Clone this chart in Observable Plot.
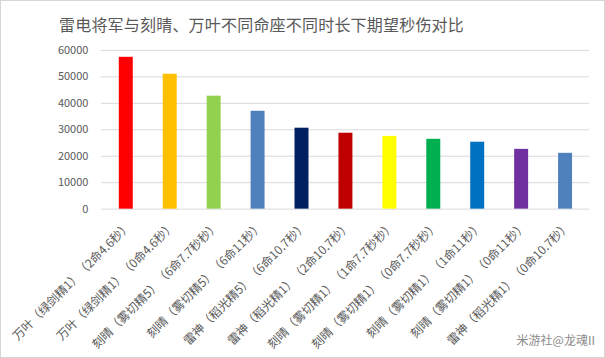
<!DOCTYPE html>
<html>
<head>
<meta charset="utf-8">
<script src="https://cdn.jsdelivr.net/npm/d3@7"></script>
<script src="https://cdn.jsdelivr.net/npm/@observablehq/plot@0.6"></script>
<style>
  html, body { margin: 0; padding: 0; background: #fff; }
  #wrap { position: relative; width: 605px; height: 358px; box-sizing: border-box; border: 1px solid #d6d6d6; overflow: hidden; font-family: "Noto Sans CJK SC", sans-serif; }
  #title { position: absolute; left: 0; width: 521px; top: 11px; text-align: center; font-size: 16px; color: #595959; letter-spacing: 0.2px; white-space: nowrap; }
  #mark { position: absolute; right: 9px; bottom: 9px; font-size: 12px; color: #8a8a8a; }
  #chart { position: absolute; left: -1px; top: -1px; }
  svg text, #title { text-spacing-trim: space-all; }
</style>
</head>
<body>
<div id="wrap">
  <div id="chart"></div>
  <div id="title">雷电将军与刻晴、万叶不同命座不同时长下期望秒伤对比</div>
  <div id="mark">米游社@龙魂II</div>
</div>
<script>
const categories = [
  "万叶（绿剑精1）（2命4.6秒）",
  "万叶（绿剑精1）（0命4.6秒）",
  "刻晴（雾切精5）（6命7.7秒秒）",
  "刻晴（雾切精5）（6命11秒）",
  "雷神（稻光精5）（6命10.7秒）",
  "雷神（稻光精1）（2命10.7秒）",
  "刻晴（雾切精1）（1命7.7秒秒）",
  "刻晴（雾切精1）（0命7.7秒秒）",
  "刻晴（雾切精1）（1命11秒）",
  "刻晴（雾切精1）（0命11秒）",
  "雷神（稻光精1）（0命10.7秒）"
];
const values = [57400, 51000, 42700, 37000, 30600, 28700, 27500, 26400, 25300, 22600, 21100];
const colors = ["#FF0000", "#FFC000", "#92D050", "#4F81BD", "#002060", "#C00000", "#FFFF00", "#00B050", "#0070C0", "#7030A0", "#4F81BD"];
const yTicks = [0, 10000, 20000, 30000, 40000, 50000, 60000];

const data = categories.map((c, i) => ({name: c, value: values[i], color: colors[i]}));

const chart = Plot.plot({
  width: 605,
  height: 358,
  marginLeft: 101,
  marginRight: 15,
  marginTop: 50,
  marginBottom: 149,
  style: {fontFamily: "'Noto Sans CJK SC', sans-serif", background: "transparent"},
  x: {domain: categories, paddingInner: 0.685, paddingOuter: 0.3425},
  y: {domain: [0, 60000]},
  marks: [
    Plot.gridY(yTicks, {stroke: "#d9d9d9", strokeOpacity: 1}),
    Plot.barY(data, {x: "name", y: "value", fill: "color"}),
    Plot.axisY(yTicks, {tickSize: 0, tickPadding: 13, fontSize: 11, fill: "#595959", tickFormat: d => String(d), label: null}),
    Plot.axisX({tickSize: 0, tickPadding: 15, dx: 3, tickRotate: -45, fontSize: 12, fill: "#595959", label: null})
  ]
});
document.getElementById("chart").appendChild(chart);
</script>
</body>
</html>
